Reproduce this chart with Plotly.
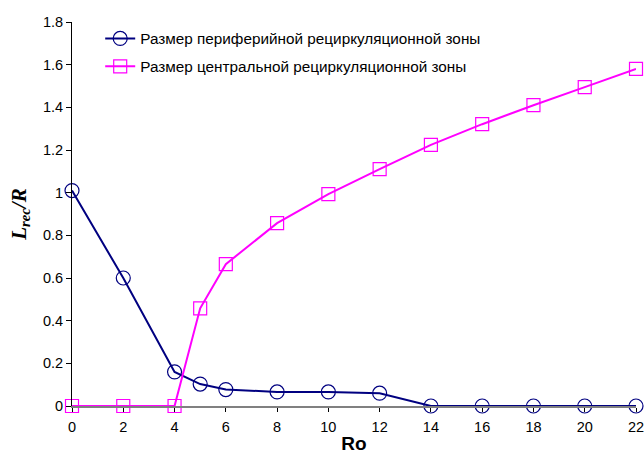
import plotly.graph_objects as go

ro_blue = [0, 2, 4, 5, 6, 8, 10, 12, 14, 16, 18, 20, 22]
peripheral = [1.01, 0.60, 0.16, 0.103, 0.077, 0.066, 0.066, 0.060, 0, 0, 0, 0, 0]

ro_mag = [0, 2, 4, 5, 6, 8, 10, 12, 14, 16, 18, 20, 22]
central = [0, 0, 0, 0.458, 0.665, 0.857, 0.993, 1.11, 1.224, 1.321, 1.41, 1.495, 1.58]

name_blue = "Размер периферийной рециркуляционной зоны"
name_mag = "Размер центральной рециркуляционной зоны"

x_ticks = [0, 2, 4, 6, 8, 10, 12, 14, 16, 18, 20, 22]
y_ticks = [0, 0.2, 0.4, 0.6, 0.8, 1.0, 1.2, 1.4, 1.6, 1.8]

fig = go.Figure()
fig.add_trace(go.Scatter(
    x=ro_blue, y=peripheral, name=name_blue, mode="lines+markers",
    legendgroup="a",
    line=dict(color="#000080", width=2),
    marker=dict(symbol="circle-open", size=14, color="#000080", line=dict(width=1.2)),
    cliponaxis=False,
))
fig.add_trace(go.Scatter(
    x=ro_mag, y=central, name=name_mag, mode="lines+markers",
    legendgroup="b",
    line=dict(color="#FF00FF", width=2),
    marker=dict(symbol="square-open", size=13, color="#FF00FF", line=dict(width=1.2)),
    cliponaxis=False,
))

fig.update_layout(
    width=644, height=454,
    margin=dict(l=72, r=8, t=22, b=48),
    paper_bgcolor="white", plot_bgcolor="white",
    font=dict(family="Liberation Sans, Arial", size=14.5, color="black"),
    legend=dict(x=0.05, y=1.0, xanchor="left", yanchor="top",
                bgcolor="rgba(0,0,0,0)", font=dict(size=15.3),
                traceorder="grouped", tracegroupgap=5),
    xaxis=dict(range=[0, 22], tickvals=x_ticks, showgrid=False, zeroline=False,
               showline=True, linecolor="#808080", linewidth=2,
               ticks="outside", ticklen=4, tickcolor="black",
               ticklabelstandoff=3,
               ticklabeloverflow="allow", automargin=False,
               title=dict(text="<b>Ro</b>", font=dict(size=19), standoff=8)),
    yaxis=dict(range=[0, 1.8], tickvals=y_ticks, showgrid=False, zeroline=False,
               showline=True, linecolor="black", linewidth=1,
               ticks="outside", ticklen=5, tickcolor="black", automargin=False,
               title=dict(text="<b><i>L<sub>rec</sub>/R</i></b>",
                          font=dict(family="Liberation Serif, Times New Roman", size=21),
                          standoff=10)),
)

fig.write_html("out.html",
               config={"displayModeBar": False},
               post_script="document.body.style.margin='0';document.body.style.overflow='hidden';")
